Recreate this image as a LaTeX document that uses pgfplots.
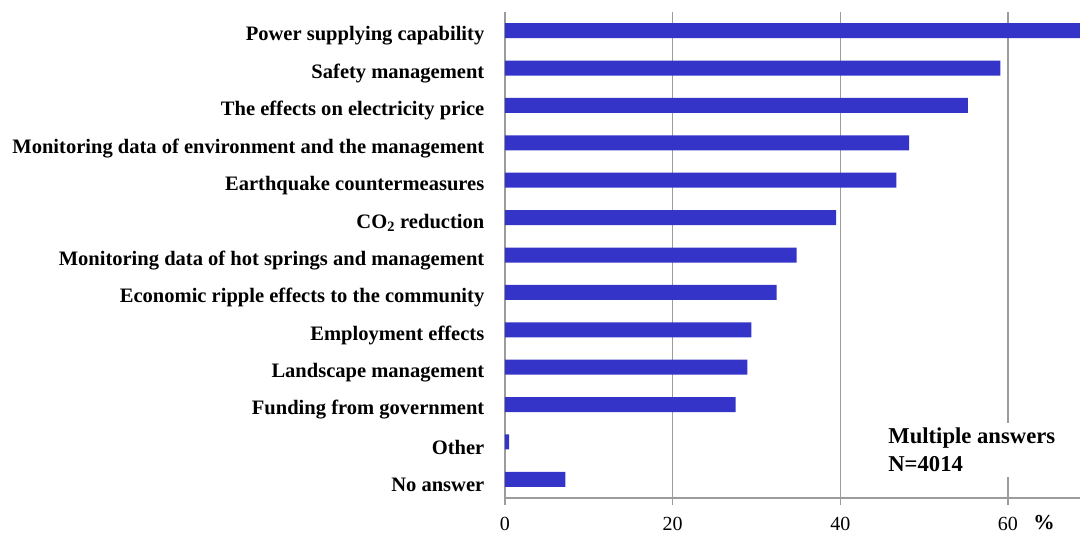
\documentclass[border=0pt]{standalone}
\usepackage{fontspec}
\setmainfont{Liberation Serif}
\usepackage{pgfplots}
\pgfplotsset{compat=1.18}
\definecolor{barblue}{HTML}{3434C8}
\definecolor{gridgray}{HTML}{9C9C9C}
\begin{document}
\begin{tikzpicture}
\begin{axis}[
  scale only axis,
  width=431.25pt, height=364.5pt,
  xbar, bar width=11.25pt,
  xmin=0, xmax=68.59,
  ymin=-0.5, ymax=12.5,
  clip mode=individual,
  axis x line=bottom, axis y line=left,
  axis line style={gridgray, line width=1pt, -},
  xtick={0,20,40,60},
  xmajorgrids, major grid style={gridgray, line width=1pt},
  x tick style={gridgray, line width=1pt},
  tick align=outside, major tick length=5pt,
  /pgf/number format/assume math mode=true,
  xticklabel style={font=\fontsize{15}{18}\selectfont, yshift=-5.5pt},
  ytick={0,...,12},
  yticklabels={No answer, Other, Funding from government, Landscape management, Employment effects, Economic ripple effects to the community, Monitoring data of hot springs and management, CO\textsubscript{2} reduction, Earthquake countermeasures, Monitoring data of environment and the management, The effects on electricity price, Safety management, Power supplying capability},
  y tick style={draw=none},
  yticklabel style={font=\fontsize{15.4}{18}\selectfont\bfseries, anchor=east, xshift=-7pt, yshift=-4pt},
]
\addplot[fill=barblue, draw=none] coordinates {
  (7.2,0) (0.5,1) (27.5,2) (28.9,3) (29.4,4) (32.4,5) (34.8,6) (39.5,7) (46.7,8) (48.2,9) (55.2,10) (59.1,11) (72,12)
};
\node[anchor=north west, fill=white, inner xsep=0pt, inner ysep=4pt, align=left, font=\fontsize{17}{21}\selectfont\bfseries] at (axis cs:45.7,1.52) {Multiple answers\\N=4014};
\node[font=\fontsize{16}{18}\selectfont\bfseries] at (axis cs:64.3,-0.5) [yshift=-18.5pt] {\%};
\end{axis}
\pgfresetboundingbox
\path (-378.75pt,-26.25pt) rectangle (431.25pt,373.5pt);
\end{tikzpicture}
\end{document}
